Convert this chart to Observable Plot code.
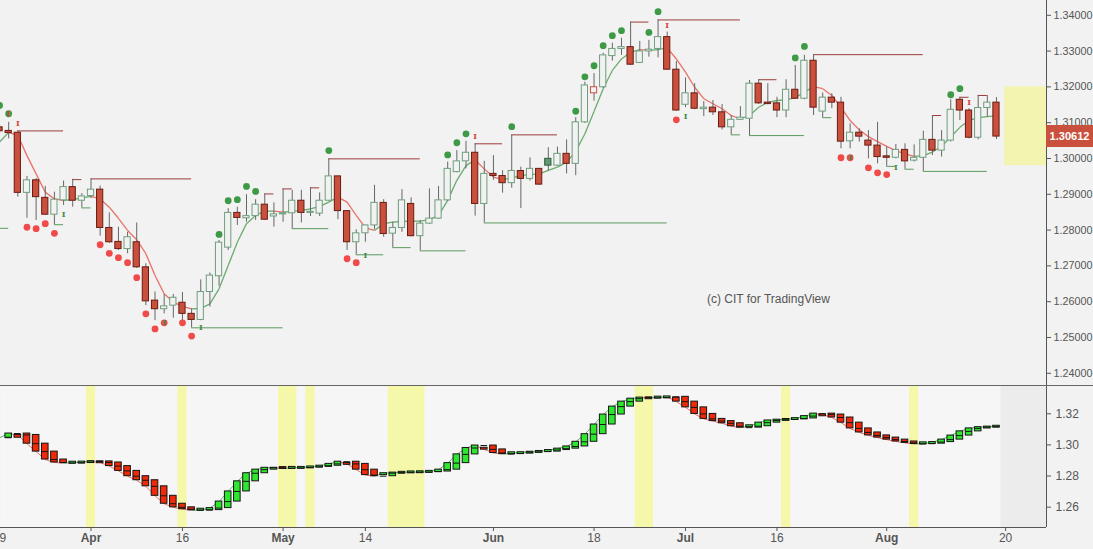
<!DOCTYPE html>
<html><head><meta charset="utf-8">
<script src="https://cdn.jsdelivr.net/npm/d3@7"></script>
<script src="https://cdn.jsdelivr.net/npm/@observablehq/plot@0.6"></script>
<style>
html,body{margin:0;padding:0;background:#f2f2f2;}
#wrap{position:relative;width:1093px;height:549px;overflow:hidden;font-family:"Liberation Sans",Arial,sans-serif;}
#top{height:385px;}
#bottom{border-top:1px solid #666;height:163px;}
svg{display:block}
#last{position:absolute;left:1046px;width:47px;height:22px;background:#c9503d;color:#fff;font-weight:bold;font-size:11px;line-height:22px;text-align:center;}
#credit{position:absolute;left:707px;top:292px;font-size:12px;color:#555;white-space:nowrap;}
</style></head><body>
<div id="wrap"><div id="top"></div><div id="bottom"></div><div id="last"></div><div id="credit"></div></div>
<script>
// bar index: 0 = 2 Apr 2018 (USDCAD daily); first bar = 19 Mar 2018
const firstBar = -10;
const open = [1.3087,1.3077,1.3072,1.2904,1.2939,1.2890,1.2843,1.2883,1.2920,1.2882,
1.2895,1.2913,1.2806,1.2767,1.2747,1.2766,1.2696,1.2603,1.2579,1.2589,
1.2597,1.2566,1.2549,1.2627,1.2671,1.2751,1.2848,1.2833,1.2839,1.2871,
1.2838,1.2844,1.2847,1.2882,1.2848,1.2846,1.2882,1.2950,1.2853,1.2766,
1.2791,1.2813,1.2876,1.2790,1.2806,1.2873,1.2783,1.2818,1.2832,1.2883,
1.2962,1.2992,1.3016,1.2873,1.2957,1.2951,1.2931,1.2965,1.2943,1.2971,
1.2999,1.2980,1.3013,1.2985,1.3101,1.3182,1.3199,1.3286,1.3306,1.3311,
1.3267,1.3299,1.3306,1.3339,1.3248,1.3150,1.3182,1.3138,1.3142,1.3129,
1.3087,1.3108,1.3111,1.3209,1.3156,1.3154,1.3134,1.3192,1.3167,1.3273,
1.3131,1.3170,1.3156,1.3048,1.3072,1.3050,1.3036,1.3006,1.3002,1.3024,
1.2994,1.3002,1.3052,1.3022,1.3050,1.3164,1.3134,1.3058,1.3141,1.3156];
const high = [1.3095,1.3101,1.3077,1.2950,1.2944,1.2922,1.2906,1.2937,1.2942,1.2902,
1.2943,1.2923,1.2848,1.2808,1.2794,1.2820,1.2706,1.2627,1.2620,1.2620,
1.2626,1.2580,1.2661,1.2680,1.2771,1.2860,1.2864,1.2899,1.2885,1.2901,
1.2876,1.2915,1.2911,1.2911,1.2919,1.2904,1.2999,1.2951,1.2854,1.2801,
1.2814,1.2925,1.2885,1.2822,1.2913,1.2890,1.2827,1.2915,1.2922,1.2990,
1.3022,1.3048,1.3041,1.2992,1.3008,1.2966,1.3066,1.2976,1.3002,1.2972,
1.3030,1.3032,1.3052,1.3114,1.3213,1.3237,1.3294,1.3322,1.3336,1.3381,
1.3327,1.3330,1.3387,1.3353,1.3271,1.3225,1.3209,1.3159,1.3162,1.3151,
1.3120,1.3145,1.3218,1.3220,1.3209,1.3171,1.3220,1.3260,1.3288,1.3290,
1.3183,1.3181,1.3171,1.3097,1.3083,1.3078,1.3101,1.3032,1.3039,1.3041,
1.3038,1.3076,1.3120,1.3078,1.3164,1.3171,1.3139,1.3176,1.3176,1.3170];
const low = [1.3070,1.3055,1.2892,1.2833,1.2827,1.2841,1.2815,1.2869,1.2864,1.2862,
1.2888,1.2783,1.2763,1.2743,1.2734,1.2693,1.2589,1.2547,1.2566,1.2554,
1.2538,1.2527,1.2547,1.2585,1.2643,1.2743,1.2813,1.2822,1.2827,1.2827,
1.2808,1.2822,1.2804,1.2820,1.2838,1.2838,1.2880,1.2829,1.2743,1.2731,
1.2766,1.2801,1.2780,1.2751,1.2794,1.2781,1.2742,1.2816,1.2830,1.2880,
1.2960,1.2971,1.2839,1.2820,1.2939,1.2903,1.2917,1.2860,1.2937,1.2925,
1.2965,1.2978,1.2957,1.2952,1.3098,1.3160,1.3195,1.3272,1.3288,1.3260,
1.3265,1.3283,1.3281,1.3246,1.3132,1.3142,1.3136,1.3117,1.3120,1.3080,
1.3066,1.3106,1.3064,1.3151,1.3150,1.3114,1.3114,1.3165,1.3164,1.3120,
1.3114,1.3139,1.3027,1.3027,1.3046,1.2999,1.2985,1.2978,1.2999,1.2970,
1.2990,1.2964,1.3008,1.3004,1.3046,1.3106,1.3055,1.3052,1.3115,1.3053];
const close = [1.3076,1.3071,1.2904,1.2939,1.2892,1.2843,1.2885,1.2920,1.2882,1.2894,
1.2913,1.2806,1.2766,1.2747,1.2780,1.2696,1.2601,1.2579,1.2587,1.2611,
1.2566,1.2549,1.2627,1.2673,1.2765,1.2848,1.2834,1.2839,1.2871,1.2829,
1.2844,1.2847,1.2882,1.2848,1.2851,1.2882,1.2950,1.2853,1.2766,1.2791,
1.2813,1.2876,1.2789,1.2806,1.2883,1.2783,1.2818,1.2832,1.2883,1.2971,
1.2992,1.3016,1.2873,1.2957,1.2951,1.2931,1.2965,1.2943,1.2971,1.2927,
1.2980,1.3013,1.2985,1.3101,1.3204,1.3199,1.3288,1.3306,1.3311,1.3262,
1.3299,1.3304,1.3339,1.3248,1.3134,1.3182,1.3139,1.3142,1.3129,1.3087,
1.3108,1.3114,1.3209,1.3154,1.3152,1.3134,1.3192,1.3167,1.3273,1.3142,
1.3170,1.3156,1.3047,1.3072,1.3061,1.3036,1.3004,1.3002,1.3024,1.2992,
1.3002,1.3052,1.3022,1.3050,1.3136,1.3134,1.3058,1.3141,1.3156,1.30612];
const trend = [1.3046,1.3073,1.3064,1.3008,1.2957,1.2906,1.2887,1.2883,1.2885,1.2890,
1.2894,1.2887,1.2864,1.2833,1.2799,1.2773,1.2734,1.2673,1.2622,1.2599,
1.2587,1.2580,1.2581,1.2594,1.2636,1.2701,1.2766,1.2818,1.2841,1.2853,
1.2853,1.2850,1.2852,1.2855,1.2859,1.2866,1.2878,1.2892,1.2878,1.2841,
1.2806,1.2799,1.2818,1.2822,1.2824,1.2825,1.2825,1.2829,1.2841,1.2883,
1.2939,1.2980,1.2996,1.2971,1.2948,1.2941,1.2945,1.2953,1.2955,1.2957,
1.2967,1.2976,1.2990,1.3020,1.3069,1.3131,1.3195,1.3246,1.3278,1.3297,
1.3304,1.3302,1.3304,1.3309,1.3278,1.3241,1.3199,1.3167,1.3153,1.3139,
1.3120,1.3111,1.3120,1.3143,1.3157,1.3162,1.3164,1.3170,1.3185,1.3201,
1.3195,1.3176,1.3143,1.3106,1.3080,1.3061,1.3047,1.3034,1.3022,1.3013,
1.3006,1.3008,1.3018,1.3034,1.3060,1.3087,1.3106,1.3114,1.3117,1.3120];

const tickBars = [-10,0,10,21,30,44,55,65,75,87,100];
const tickLabels = ["19","Apr","16","May","14","Jun","18","Jul","16","Aug","20"];
const monthLabels = ["Apr","May","Jun","Jul","Aug"];
const priceTicks = [1.24,1.25,1.26,1.27,1.28,1.29,1.30,1.31,1.32,1.33,1.34];
const lowerTicks = [1.26,1.28,1.30,1.32];

const greenDotBars = [-10,-9,14,15,16,17,18,26,39,40,41,46,53,54,55,56,57,58,61,62,77,78,94,95];
const greenDotPrices = [1.3148,1.3125,1.2788,1.2882,1.2885,1.2922,1.2908,1.3022,1.3010,1.3044,1.3069,1.3089,1.3132,1.3228,1.3259,1.3315,1.3343,1.3357,1.3352,1.3410,1.3281,1.3313,1.3178,1.3195];
const redDotBars = [-7,-6,-5,-4,1,2,3,4,5,6,7,8,10,11,28,29,64,82,83,85,86,87];
const redDotPrices = [1.2808,1.2804,1.2818,1.2791,1.2759,1.2735,1.2723,1.2709,1.2667,1.2566,1.2524,1.2541,1.2541,1.2504,1.2720,1.2709,1.3108,1.3002,1.3002,1.2974,1.2960,1.2955];
const redMarkBars = [-9,-8,42,63,96];
const redMarkPrices = [1.3125,1.3099,1.3062,1.3371,1.3157];
const greenMarkBars = [-3,8,12,30,65,83,88];
const greenMarkPrices = [1.2843,1.2541,1.2527,1.2729,1.3118,1.3002,1.2975];

const resPrice = [1.3077,1.2941,1.2943,1.2901,1.2915,1.2918,1.2999,1.3041,1.3066,1.3381,1.3387,1.3220,1.3290,1.3120,1.3171,1.3176];
const resFrom  = [-8,-2,0,19,21,24,26,42,46,59,62,73,79,92,95,97];
const resTo    = [-3,-1,11,20,22,25,36,45,51,61,71,75,91,93,96,98];
const supPrice = [1.2805,1.2815,1.2862,1.2527,1.2804,1.2731,1.2751,1.2742,1.2820,1.3066,1.3064,1.3114,1.2978,1.2970,1.2964];
const supFrom  = [-10,-4,-1,11,22,29,33,36,43,70,72,80,87,89,91];
const supTo    = [-9,-3,0,21,26,32,35,41,63,71,78,81,88,90,98];

const flatBars = [0,10,21,22,24,33,34,35,36,60,61,76,90];
const lastPrice = 1.30612;
const zoneFromBar = 99.9, zoneTop = 1.3200, zoneBottom = 1.2980;
const credit = "(c) CIT for TradingView";

// ---------- build tables ----------
const bars = open.map((o,i)=>({k:firstBar+i,o,h:high[i],l:low[i],c:close[i],prev:i?close[i-1]:close[i]+1}));
bars.forEach(d=>{
  const filled = d.c < d.o, up = d.c >= d.prev;
  d.fill = filled ? (up ? "#5f9a72" : "#c9503d") : "#f2f2f2";
  d.stroke = up ? (filled ? "#2f5a3a" : "#6e9e7e") : (filled ? "#6b1b12" : "#c9503d");
});
const seg = trend.slice(1).map((v,i)=>({k1:firstBar+i,k2:firstBar+i+1,a:trend[i],b:v,col:v>=trend[i]?"#6aab6f":"#e8716b"}));
const gDots = greenDotBars.map((k,i)=>({k,p:greenDotPrices[i]}));
const rDots = redDotBars.map((k,i)=>({k,p:redDotPrices[i]}));
const rMarks = redMarkBars.map((k,i)=>({k,p:redMarkPrices[i]}));
const gMarks = greenMarkBars.map((k,i)=>({k,p:greenMarkPrices[i]}));
const res = resPrice.map((p,i)=>({p,a:resFrom[i],b:resTo[i]}));
const sup = supPrice.map((p,i)=>({p,a:supFrom[i],b:supTo[i]}));
const ticks = tickBars.map((k,i)=>({k,label:tickLabels[i]}));
const lastBar = firstBar + close.length - 1;

const boxes = [];
for (let i=1;i<trend.length;i++){
  const a = trend[Math.max(0,i-2)], m = trend[i-1], b = trend[i];
  let lo = Math.min(a,b), hi = Math.max(a,b);
  const minH = 0.0012;
  if (hi-lo < minH){ const c=(hi+lo)/2; lo=c-minH/2; hi=c+minH/2; }
  boxes.push({k:firstBar+i, lo, hi, m, fill: b>=m ? "#2ee62e" : "#ee2a0a"});
}

const W = 1093;
const xDom = [-9.895, 104.47];
const font = "Liberation Sans, Arial, sans-serif";

const topPlot = Plot.plot({
  width: W, height: 385, marginLeft: 0, marginRight: 47, marginTop: 0, marginBottom: 0,
  style: {background: "#f2f2f2", fontFamily: font, fontSize: "11px", color: "#555"},
  x: {domain: xDom, axis: null, label: null},
  y: {domain: [1.23659, 1.34413], axis: null, label: null},
  color: {type: "identity"},
  marks: [
    Plot.rect([0], {x1: zoneFromBar, x2: xDom[1], y1: zoneBottom, y2: zoneTop, fill: "#f2f4b0"}),
    Plot.link(seg, {x1: "k1", y1: "a", x2: "k2", y2: "b", stroke: "col", strokeWidth: 1.3}),
    Plot.ruleY(res, {y: "p", x1: "a", x2: "b", stroke: "#9c3b3b", strokeWidth: 1}),
    Plot.ruleY(sup, {y: "p", x1: "a", x2: "b", stroke: "#5a9a5e", strokeWidth: 1}),
    Plot.ruleX(bars, {x: "k", y1: "l", y2: "h", stroke: "#666", strokeWidth: 1}),
    Plot.rect(bars, {x1: d=>d.k-0.34, x2: d=>d.k+0.34, y1: "o", y2: "c", fill: "fill", stroke: "stroke", strokeWidth: 1}),
    Plot.dot(gDots, {x: "k", y: "p", r: 3.4, fill: "#3d9a47"}),
    Plot.dot(rDots, {x: "k", y: "p", r: 3.4, fill: "#f04a4a"}),
    Plot.text(rMarks, {x: "k", y: "p", text: () => "I", fill: "#d9443c", fontSize: 8, fontWeight: "bold", fontFamily: "DejaVu Serif"}),
    Plot.text(gMarks, {x: "k", y: "p", text: () => "I", fill: "#3f8a45", fontSize: 8, fontWeight: "bold", fontFamily: "DejaVu Serif"}),
    Plot.ruleX([xDom[1]], {stroke: "#555"}),
    Plot.axisY(priceTicks, {anchor: "right", tickSize: 4, tickPadding: 3, tickFormat: d3.format(".5f"), label: null, stroke: "#555", fill: "#555", fontSize: 10.8})
  ]
});
document.getElementById("top").appendChild(topPlot);

const yLow = [1.24694, 1.33752];
const bottomPlot = Plot.plot({
  width: W, height: 163, marginLeft: 0, marginRight: 47, marginTop: 0, marginBottom: 22,
  style: {background: "#f2f2f2", fontFamily: font, fontSize: "12px", color: "#555"},
  x: {domain: xDom, axis: null, label: null},
  y: {domain: yLow, axis: null, label: null},
  color: {type: "identity"},
  marks: [
    Plot.frame({fill: "#f6f6f6", stroke: "none"}),
    Plot.rect([0], {x1: lastBar + 0.5, x2: xDom[1], y1: yLow[0], y2: yLow[1], fill: "#ececec"}),
    Plot.rect(flatBars, {x1: d=>d-0.5, x2: d=>d+0.5, y1: yLow[0], y2: yLow[1], fill: "#f5f7a9"}),
    Plot.link(seg, {x1: "k1", y1: "a", x2: "k2", y2: "b", stroke: "col", strokeWidth: 1}),
    Plot.rect(boxes, {x1: d=>d.k-0.36, x2: d=>d.k+0.36, y1: "lo", y2: "hi", fill: "fill", stroke: "#151515", strokeWidth: 1}),
    Plot.ruleY(boxes, {y: "m", x1: d=>d.k-0.36, x2: d=>d.k+0.36, stroke: "#151515", strokeWidth: 1}),
    Plot.ruleY([yLow[0]], {stroke: "#555"}),
    Plot.ruleX([xDom[1]], {stroke: "#555"}),
    Plot.axisY(lowerTicks, {anchor: "right", tickSize: 4, tickPadding: 5, tickFormat: d3.format(".2f"), label: null, stroke: "#555", fill: "#555", fontSize: 12}),
    Plot.axisX(tickBars, {anchor: "bottom", tickSize: 4, tickFormat: () => "", label: null, stroke: "#555"}),
    Plot.text(ticks.filter(d=>!monthLabels.includes(d.label)), {x: "k", text: "label", frameAnchor: "bottom", dy: 14, fill: "#555", fontSize: 12}),
    Plot.text(ticks.filter(d=>monthLabels.includes(d.label)), {x: "k", text: "label", frameAnchor: "bottom", dy: 14, fill: "#555", fontSize: 12, fontWeight: "bold"})
  ]
});
document.getElementById("bottom").appendChild(bottomPlot);

const yPix = topPlot.scale("y").apply(lastPrice);
const lab = document.getElementById("last");
lab.style.top = (yPix - 11) + "px";
lab.textContent = d3.format(".5f")(lastPrice);
document.getElementById("credit").textContent = credit;
</script>
</body></html>
